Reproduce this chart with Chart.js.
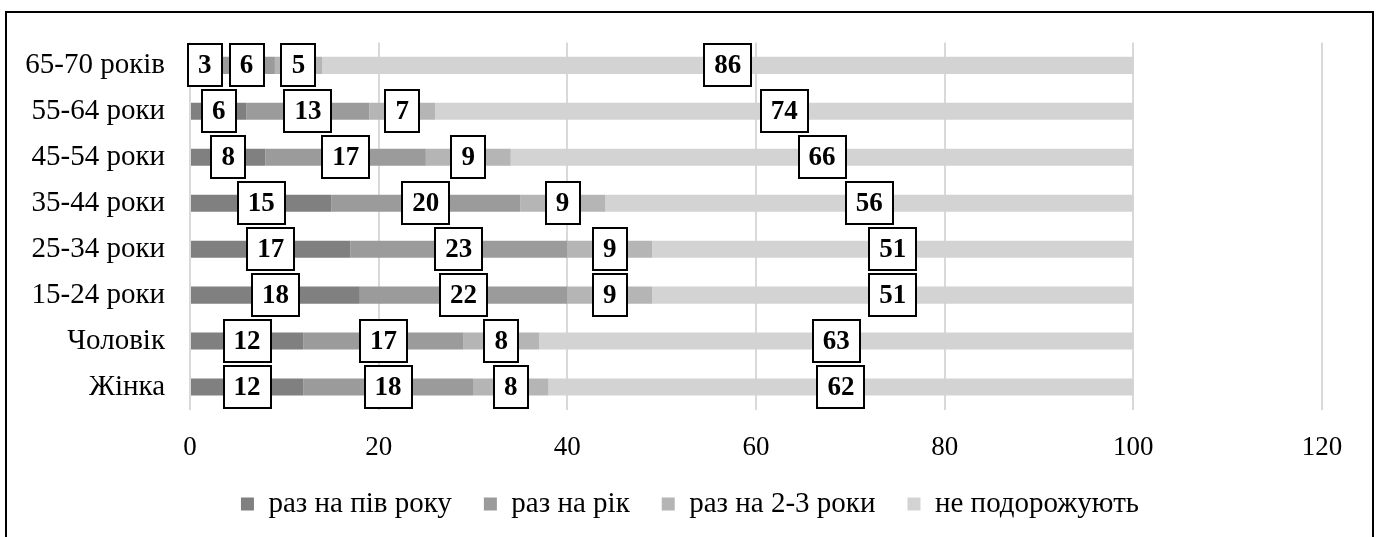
<!DOCTYPE html>
<html>
<head>
<meta charset="utf-8">
<script src="https://cdn.jsdelivr.net/npm/chart.js@4.4.1/dist/chart.umd.min.js"></script>
<style>
  html, body { margin: 0; padding: 0; background: #fff; }
  #frame { position: absolute; left: 5px; top: 11px; width: 1369px; height: 540px; border: 2px solid #000; box-sizing: border-box; }
  #wrap { position: absolute; left: 0; top: 0; width: 1380px; height: 537px; }
</style>
</head>
<body>
<div id="frame"></div>
<div id="wrap"><canvas id="c" width="1380" height="537"></canvas></div>
<script>
// Travel frequency by age group and sex, % of respondents
const categories = ['65-70 років', '55-64 роки', '45-54 роки', '35-44 роки', '25-34 роки', '15-24 роки', 'Чоловік', 'Жінка'];
const seriesNames = ['раз на пів року', 'раз на рік', 'раз на 2-3 роки', 'не подорожують'];
const halfYear = [3, 6, 8, 15, 17, 18, 12, 12];
const onceYear = [6, 13, 17, 20, 23, 22, 17, 18];
const everyTwoThree = [5, 7, 9, 9, 9, 9, 8, 8];
const neverTravel = [86, 74, 66, 56, 51, 51, 63, 62];
const xTicks = [0, 20, 40, 60, 80, 100, 120];

const colors = ['#808080', '#9b9b9b', '#b5b5b5', '#d3d3d3'];
const FONT = '"Liberation Serif", "Times New Roman", serif';

// Value labels in white boxes with a black outline, centred on each segment
const boxedLabels = {
  id: 'boxedLabels',
  afterDatasetsDraw(chart) {
    const ctx = chart.ctx;
    ctx.save();
    ctx.font = 'bold 27px ' + FONT;
    ctx.textAlign = 'center';
    ctx.textBaseline = 'middle';
    chart.data.datasets.forEach((ds, di) => {
      const meta = chart.getDatasetMeta(di);
      meta.data.forEach((bar, i) => {
        const txt = String(ds.data[i]);
        const cx = (bar.x + bar.base) / 2;
        const cy = bar.y;
        const w = Math.round(ctx.measureText(txt).width + 20);
        const h = 42;
        const x0 = Math.round(cx - w / 2), y0 = Math.round(cy - h / 2);
        ctx.fillStyle = '#fff';
        ctx.fillRect(x0, y0, w, h);
        ctx.lineWidth = 2;
        ctx.strokeStyle = '#000';
        ctx.strokeRect(x0, y0, w, h);
        ctx.fillStyle = '#000';
        ctx.fillText(txt, cx, cy + 1);
      });
    });
    ctx.restore();
  }
};

const values = [halfYear, onceYear, everyTwoThree, neverTravel];

new Chart(document.getElementById('c'), {
  type: 'bar',
  data: {
    labels: categories,
    datasets: values.map((arr, k) => ({
      label: seriesNames[k],
      data: arr,
      backgroundColor: colors[k],
      borderWidth: 0,
      categoryPercentage: 1,
      barPercentage: 0.37
    }))
  },
  options: {
    indexAxis: 'y',
    responsive: false,
    animation: false,
    layout: { padding: { left: 0, right: 0, top: 41, bottom: 8.5 } },
    scales: {
      x: {
        stacked: true,
        min: 0,
        max: 120,
        afterBuildTicks(scale) { scale.ticks = xTicks.map(v => ({ value: v })); },
        afterFit(scale) { scale.height = 47.5; },
        ticks: { color: '#000', font: { family: FONT, size: 27 }, padding: 22, maxRotation: 0 },
        grid: { color: '#d9d9d9', lineWidth: 2, drawTicks: false },
        border: { display: false }
      },
      y: {
        stacked: true,
        afterFit(scale) { scale.width = 190; },
        ticks: { color: '#000', font: { family: FONT, size: 29 }, padding: 25 },
        grid: { display: false, drawTicks: false },
        border: { display: false }
      },
      // empty right-hand margin axis, keeps the plot narrower than the frame
      yMargin: {
        type: 'category',
        position: 'right',
        afterFit(scale) { scale.width = 58; },
        ticks: { display: false },
        grid: { display: false, drawTicks: false },
        border: { display: false }
      }
    },
    plugins: {
      legend: {
        position: 'bottom',
        labels: {
          color: '#000',
          font: { family: FONT, size: 29 },
          boxWidth: 13,
          boxHeight: 13,
          padding: 32
        }
      },
      tooltip: { enabled: false }
    }
  },
  plugins: [boxedLabels]
});
</script>
</body>
</html>
